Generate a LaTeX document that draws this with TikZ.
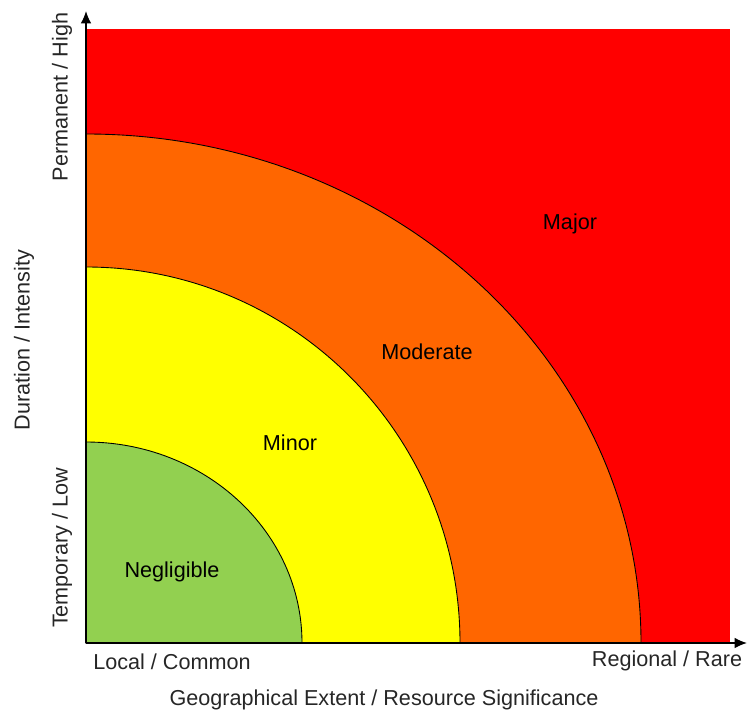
\documentclass[tikz,border=0pt]{standalone}
\usepackage{fontspec}
\setmainfont{Liberation Sans}
\usepackage{xcolor}
\usepackage{tikz}
\usetikzlibrary{arrows.meta}
\definecolor{zonered}{HTML}{FF0000}
\definecolor{zoneorange}{HTML}{FF6600}
\definecolor{zoneyellow}{HTML}{FFFF00}
\definecolor{zonegreen}{HTML}{92D050}
\definecolor{labelgray}{HTML}{262626}
\begin{document}
\begin{tikzpicture}[
  zone/.style={draw=black, line width=0.5pt},
  zonelabel/.style={text=black, font=\fontsize{12.3}{14}\selectfont},
  axislabel/.style={text=labelgray, font=\fontsize{12.3}{14}\selectfont},
  ]
            \useasboundingbox (0,0) rectangle (14.96,14.22);
            \coordinate (origin) at (1.72,1.36);
            \fill[zonered] (origin) rectangle (14.6,13.64);
            \filldraw[zone, fill=zoneorange] (origin) -- (12.82,1.36) arc[start angle=0, end angle=90, x radius=11.1cm, y radius=10.18cm] -- cycle;
            \filldraw[zone, fill=zoneyellow] (origin) -- (9.2,1.36) arc[start angle=0, end angle=90, x radius=7.48cm, y radius=7.52cm] -- cycle;
            \filldraw[zone, fill=zonegreen] (origin) -- (6.04,1.36) arc[start angle=0, end angle=90, x radius=4.32cm, y radius=4.02cm] -- cycle;
            \coordinate (xend) at (14.94,1.36);
            \coordinate (yend) at (1.72,14.0);
            \draw[-{Latex[length=7pt,width=6pt]}, line width=0.8pt] (origin) -- (xend);
            \draw[-{Latex[length=7pt,width=6pt]}, line width=0.8pt] (origin) -- (yend);
            \node[zonelabel] (major) at (11.4,9.74) {Major};
            \node[zonelabel] (moderate) at (8.54,7.18) {Moderate};
            \node[zonelabel] (minor) at (5.8,5.36) {Minor};
            \node[zonelabel] (negligible) at (3.44,2.78) {Negligible};
            \node[axislabel] (local) at (3.44,0.98) {Local / Common};
            \node[axislabel] (regional) at (13.34,1.0) {Regional / Rare};
            \node[axislabel] (xtitle) at (7.68,0.22) {Geographical Extent / Resource Significance};
            \node[axislabel, rotate=90] (ytitle) at (0.48,7.42) {Duration / Intensity};
            \node[axislabel, rotate=90] (temporary) at (1.24,3.26) {Temporary / Low};
            \node[axislabel, rotate=90] (permanent) at (1.24,12.28) {Permanent / High};
        \end{tikzpicture}
\end{document}
